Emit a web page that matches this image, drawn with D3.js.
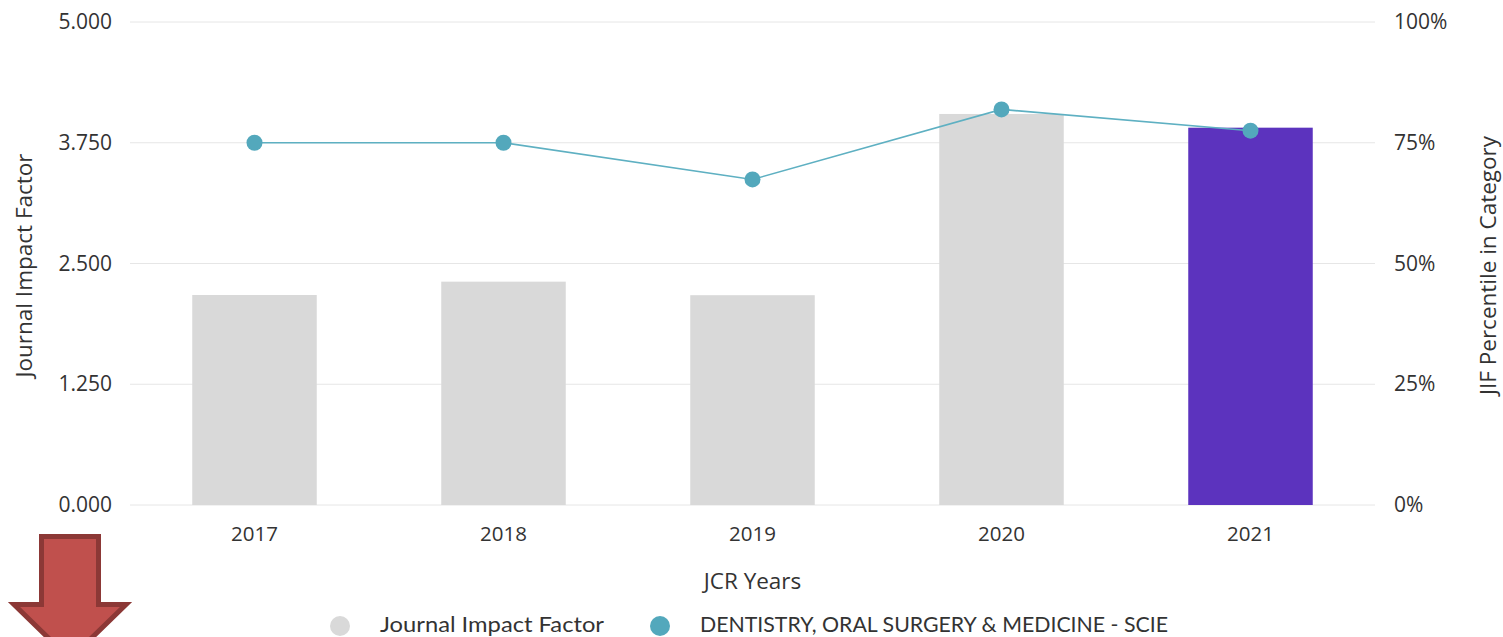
<!DOCTYPE html>
<html><head><meta charset="utf-8">
<script src="https://cdn.jsdelivr.net/npm/d3@7"></script>
<style>html,body{margin:0;padding:0;background:#fff;overflow:hidden}</style>
</head><body><svg id="c" width="1503" height="637"></svg>
<script>
const years = ["2017","2018","2019","2020","2021"];
const jif = [2.174, 2.312, 2.172, 4.048, 3.906];
const percentile = [75.0, 75.0, 67.4, 81.9, 77.5];
const leftTicks = [0, 1.25, 2.5, 3.75, 5];
const rightTicks = [0, 25, 50, 75, 100];
const legendLabels = ["Journal Impact Factor", "DENTISTRY, ORAL SURGERY & MEDICINE - SCIE"];

const svg = d3.select("#c");
const m = {l:130, r:1375, t:22, b:505};
const font = "'Open Sans', sans-serif";
const x = d3.scaleBand().domain(years).range([m.l, m.r]).paddingInner(0.5).paddingOuter(0.25);
const y = d3.scaleLinear().domain([0,5]).range([m.b, m.t]);
const y2 = d3.scaleLinear().domain([0,100]).range([m.b, m.t]);

// gridlines
svg.append("g").selectAll("line").data(leftTicks).join("line")
  .attr("x1", m.l).attr("x2", m.r).attr("y1", d=>y(d)).attr("y2", d=>y(d))
  .attr("stroke", "#e6e6e6").attr("stroke-width", 1);

// left axis
const la = svg.append("g").attr("transform", `translate(${m.l},0)`)
  .call(d3.axisLeft(y).tickValues(leftTicks).tickFormat(d3.format(".3f")).tickSize(0).tickPadding(18));
la.select(".domain").remove();
la.selectAll("text").attr("font-family", font).attr("font-size", 21).attr("fill", "#333");

// right axis
const ra = svg.append("g").attr("transform", `translate(${m.r},0)`)
  .call(d3.axisRight(y2).tickValues(rightTicks).tickFormat(d=>d+"%").tickSize(0).tickPadding(19));
ra.select(".domain").remove();
ra.selectAll("text").attr("font-family", font).attr("font-size", 21).attr("fill", "#333");

// bottom axis
const ba = svg.append("g").attr("transform", `translate(0,${m.b})`)
  .call(d3.axisBottom(x).tickSize(0).tickPadding(21));
ba.select(".domain").remove();
ba.selectAll("text").attr("font-family", font).attr("font-size", 20.5).attr("fill", "#333");

// bars
svg.append("g").selectAll("rect").data(years).join("rect")
  .attr("x", d=>x(d)).attr("width", x.bandwidth())
  .attr("y", (d,i)=>y(jif[i])).attr("height", (d,i)=>y(0)-y(jif[i]))
  .attr("fill", (d,i)=> i===years.length-1 ? "#5c33be" : "#d9d9d9");

// line
const cx = d => x(d) + x.bandwidth()/2;
svg.append("path").datum(years)
  .attr("d", d3.line().x(d=>cx(d)).y((d,i)=>y2(percentile[i])))
  .attr("fill","none").attr("stroke","#5eb0c2").attr("stroke-width",1.6);
svg.append("g").selectAll("circle").data(years).join("circle")
  .attr("cx", d=>cx(d)).attr("cy", (d,i)=>y2(percentile[i])).attr("r", 8)
  .attr("fill", "#53a8bc");

// axis titles
svg.append("text").attr("transform", `translate(32,${(m.t+m.b)/2+2}) rotate(-90)`)
  .attr("text-anchor","middle").attr("font-family",font).attr("font-size",22.5).attr("fill","#333")
  .text("Journal Impact Factor");
svg.append("text").attr("transform", `translate(1496,${(m.t+m.b)/2+2}) rotate(-90)`)
  .attr("text-anchor","middle").attr("font-family",font).attr("font-size",22.5).attr("fill","#333")
  .text("JIF Percentile in Category");
svg.append("text").attr("x", (m.l+m.r)/2).attr("y", 589)
  .attr("text-anchor","middle").attr("font-family",font).attr("font-size",22.5).attr("fill","#333")
  .text("JCR Years");

// legend
const leg = [{x:340, c:"#d9d9d9", w:224}, {x:660, c:"#53a8bc", w:468}];
const lg = svg.append("g");
lg.selectAll("circle").data(leg).join("circle")
  .attr("cx", d=>d.x).attr("cy", 626).attr("r", 10).attr("fill", d=>d.c);
lg.selectAll("text").data(leg).join("text")
  .attr("x", d=>d.x+40).attr("y", 632)
  .attr("font-family", "Lato, sans-serif").attr("font-size", 21).attr("fill","#333")
  .attr("textLength", d=>d.w).attr("lengthAdjust","spacingAndGlyphs")
  .text((d,i)=>legendLabels[i]);

// red arrow
svg.append("path")
  .attr("d", "M41.5,536.5 L98.5,536.5 L98.5,604.5 L126,604.5 L70,659 L14,604.5 L41.5,604.5 Z")
  .attr("fill","#c0504d").attr("stroke","#8c3836").attr("stroke-width",5).attr("stroke-linejoin","miter");
</script>
</body></html>
